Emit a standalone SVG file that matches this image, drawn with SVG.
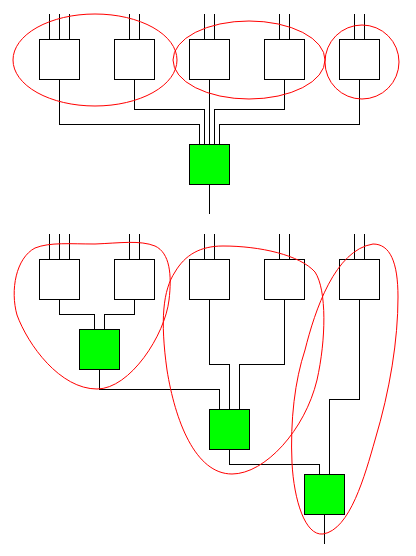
<svg xmlns="http://www.w3.org/2000/svg" width="416" height="556" viewBox="0 0 416 556">
<style>
.box{fill:#fff;stroke:#000;stroke-width:1}
.g{fill:#00ff00;stroke:#000;stroke-width:1}
.w{fill:none;stroke:#000;stroke-width:1}
.grp{fill:none;stroke:#ff0000;stroke-width:1}
</style>
<rect width="416" height="556" fill="#fff"/>
<g id="connectors" class="w" shape-rendering="crispEdges">
<!-- top inputs -->
<path d="M49.5 14V39.5M59.5 14V39.5M69.5 14V39.5M129.5 14V39.5M139.5 14V39.5M204.5 14V39.5M214.5 14V39.5M279.5 14V39.5M289.5 14V39.5M354.5 14V39.5M364.5 14V39.5"/>
<polyline points="59.5,79.5 59.5,124.5 199.5,124.5 199.5,144.5"/>
<polyline points="134.5,79.5 134.5,109.5 204.5,109.5 204.5,144.5"/>
<polyline points="209.5,79.5 209.5,144.5"/>
<polyline points="284.5,79.5 284.5,109.5 214.5,109.5 214.5,144.5"/>
<polyline points="359.5,79.5 359.5,124.5 219.5,124.5 219.5,144.5"/>
<polyline points="209.5,184.5 209.5,214"/>
<!-- bottom inputs -->
<path d="M49.5 234V259.5M59.5 234V259.5M69.5 234V259.5M129.5 234V259.5M139.5 234V259.5M204.5 234V259.5M214.5 234V259.5M279.5 234V259.5M289.5 234V259.5M354.5 234V259.5M364.5 234V259.5"/>
<polyline points="59.5,299.5 59.5,314.5 94.5,314.5 94.5,329.5"/>
<polyline points="134.5,299.5 134.5,314.5 104.5,314.5 104.5,329.5"/>
<polyline points="99.5,369.5 99.5,389.5 219.5,389.5 219.5,409.5"/>
<polyline points="209.5,299.5 209.5,364.5 229.5,364.5 229.5,409.5"/>
<polyline points="284.5,299.5 284.5,364.5 239.5,364.5 239.5,409.5"/>
<polyline points="229.5,449.5 229.5,464.5 319.5,464.5 319.5,474.5"/>
<polyline points="359.5,299.5 359.5,399.5 329.5,399.5 329.5,474.5"/>
<polyline points="324.5,514.5 324.5,544"/>
</g>
<g shape-rendering="crispEdges">
<g id="t1"><rect class="box" x="39.5" y="39.5" width="40" height="40"/></g>
<g id="t2"><rect class="box" x="114.5" y="39.5" width="40" height="40"/></g>
<g id="t3"><rect class="box" x="189.5" y="39.5" width="40" height="40"/></g>
<g id="t4"><rect class="box" x="264.5" y="39.5" width="40" height="40"/></g>
<g id="t5"><rect class="box" x="339.5" y="39.5" width="40" height="40"/></g>
<g id="tg"><rect class="g" x="189.5" y="144.5" width="40" height="40"/></g>
<g id="b1"><rect class="box" x="39.5" y="259.5" width="40" height="40"/></g>
<g id="b2"><rect class="box" x="114.5" y="259.5" width="40" height="40"/></g>
<g id="b3"><rect class="box" x="189.5" y="259.5" width="40" height="40"/></g>
<g id="b4"><rect class="box" x="264.5" y="259.5" width="40" height="40"/></g>
<g id="b5"><rect class="box" x="339.5" y="259.5" width="40" height="40"/></g>
<g id="bg1"><rect class="g" x="79.5" y="329.5" width="40" height="40"/></g>
<g id="bg2"><rect class="g" x="209.5" y="409.5" width="40" height="40"/></g>
<g id="bg3"><rect class="g" x="304.5" y="474.5" width="40" height="40"/></g>
</g>
<g id="groups" class="grp">
<ellipse cx="95" cy="60" rx="82" ry="46"/>
<ellipse cx="249" cy="60" rx="76" ry="39"/>
<ellipse cx="362" cy="62" rx="37" ry="37"/>
<path d="M95,244 C120,243 140,240 155,246 C170,253 172,275 169,300 C165,335 130,389 97,389 C60,389 28,345 17,315 C10,290 16,258 35,248 C50,242 70,244 95,244 Z"/>
<path d="M223,246 C260,246 300,255 315,272 C327,290 326,340 317,380 C305,430 265,474 232,474 C195,474 175,420 167,370 C160,320 163,290 175,272 C185,255 200,246 223,246 Z"/>
<path d="M373,244 C390,244 398,262 398,297 C398,340 390,390 375,440 C365,475 350,530 323,534 C305,536 294,500 292,463 C290,420 295,380 305,350 C315,310 335,250 373,244 Z"/>
</g>
</svg>
